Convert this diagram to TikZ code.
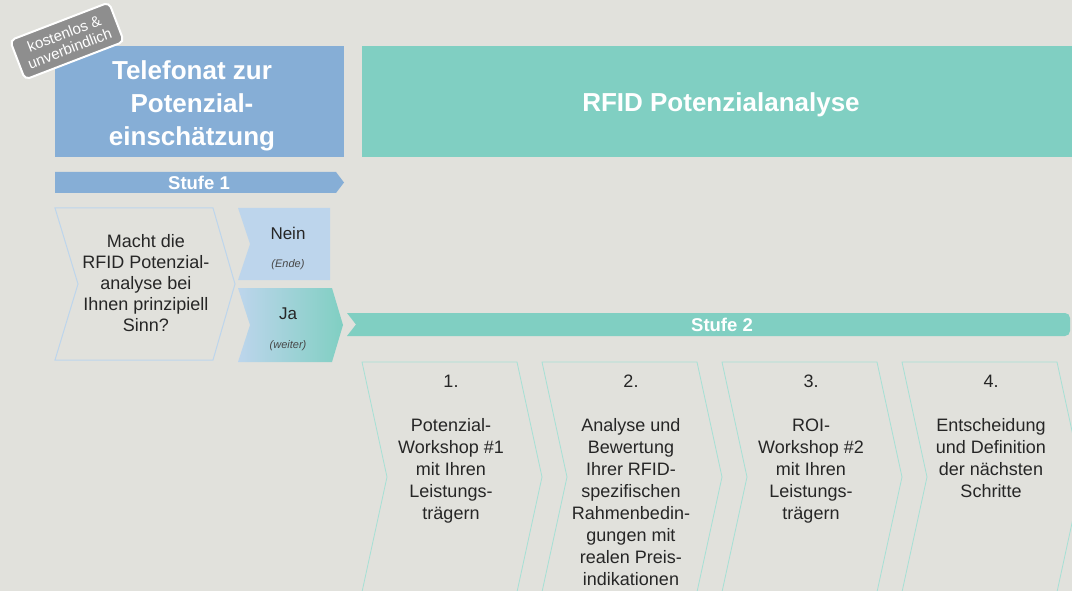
\documentclass[tikz,border=0pt]{standalone}
\usepackage{fontspec}
\setmainfont{Liberation Sans}
\usetikzlibrary{positioning}
\definecolor{hg}{HTML}{E1E1DC}
\definecolor{blau}{HTML}{86AED6}
\definecolor{hellblau}{HTML}{BDD5EC}
\definecolor{gruen}{HTML}{80CFC2}
\definecolor{hellgruen}{HTML}{A6E0D5}
\definecolor{grau}{HTML}{8E8E8E}
\definecolor{schrift}{HTML}{262626}
\tikzset{
    title/.style =  {text=white,
                    font=\bfseries\fontsize{26}{33}\selectfont,
                    align=center,
                    inner sep=0pt},
    bartext/.style = {text=white,
                    font=\bfseries\fontsize{18.5}{20}\selectfont,
                    inner sep=0pt},
    body/.style =   {text=schrift,
                    font=\fontsize{18}{22}\selectfont,
                    align=center,
                    inner sep=0pt},
    answer/.style = {text=schrift,
                    font=\fontsize{17}{20}\selectfont,
                    inner sep=0pt},
    remark/.style = {text=schrift!85,
                    font=\itshape\fontsize{11}{12}\selectfont,
                    inner sep=0pt},
    badge/.style =  {rectangle,
                    rounded corners=5pt,
                    fill=grau,
                    draw=white,
                    line width=2pt,
                    text=white,
                    font=\fontsize{15}{15.5}\selectfont,
                    align=center,
                    rotate=21,
                    minimum width=106pt,
                    minimum height=42pt,
                    inner sep=1pt},
    stepline/.style = {draw=hellgruen,
                    line width=0.8pt},
    askline/.style = {draw=hellblau,
                    line width=1pt}
}

\begin{document}
\begin{tikzpicture}[x=1pt,y=-1pt]
    \useasboundingbox (0,0) rectangle (1072,591);
    \fill[hg] (0,0) rectangle (1072,591);
    % Kopf
    \fill[blau]  (55,46) rectangle (344,157);
    \fill[gruen] (362,46) rectangle (1072,157);
    \node[title] (tel)  at (192,106) {Telefonat zur\\Potenzial-\\einschätzung};
    \node[title] (rfid) at (721,105) {RFID Potenzialanalyse};
    \node[badge] (frei) at (67,41)   {kostenlos \&\\unverbindlich};
    % Stufe 1
    \fill[blau] (55,172) -- (336,172) -- (344,182.5) -- (336,193) -- (55,193) -- cycle;
    \node[bartext] (s1) at (199,182.5) {Stufe 1};
    \draw[askline] (55,208) -- (213,208) -- (235,284) -- (213,360) -- (55,360) -- (78,284) -- cycle;
    \node[body, font=\fontsize{18}{21}\selectfont] (frage) at (146,283)
        {Macht die\\RFID Potenzial-\\analyse bei\\Ihnen prinzipiell\\Sinn?};
    \fill[hellblau] (238,208) -- (330,208) -- (330,280) -- (238,280) -- (250,244) -- cycle;
    \shade[left color=hellblau, right color=gruen]
        (238,288) -- (332,288) -- (343,325) -- (332,362) -- (238,362) -- (250,325) -- cycle;
    \node[answer] (nein) at (288,233) {Nein};
    \node[remark, below=20pt of nein] (ende) {(Ende)};
    \node[answer] (ja) at (288,314) {Ja};
    \node[remark, below=20pt of ja] (weiter) {(weiter)};
    % Stufe 2
    \fill[gruen] (347,313) [rounded corners=5pt] -- (1070,313) -- (1070,336) [sharp corners] -- (347,336) -- (356,324.5) -- cycle;
    \node[bartext] (s2) at (722,324.5) {Stufe 2};
    \draw[stepline] (362,362) -- (517,362) -- (542,477) -- (517,592) -- (362,592) -- (387,477) -- cycle;
    \draw[stepline] (542,362) -- (697,362) -- (722,477) -- (697,592) -- (542,592) -- (567,477) -- cycle;
    \draw[stepline] (722,362) -- (877,362) -- (902,477) -- (877,592) -- (722,592) -- (747,477) -- cycle;
    \draw[stepline] (902,362) -- (1057,362) -- (1082,477) -- (1057,592) -- (902,592) -- (927,477) -- cycle;
    \node[body] (nr1) at (451,381) {1.};
    \node[body] (nr2) at (631,381) {2.};
    \node[body] (nr3) at (811,381) {3.};
    \node[body] (nr4) at (991,381) {4.};
    \node[body, below=31pt of nr1] (txt1) {Potenzial-\\Workshop \#1\\mit Ihren\\Leistungs-\\trägern};
    \node[body, below=31pt of nr2] (txt2) {Analyse und\\Bewertung\\Ihrer RFID-\\spezifischen\\Rahmenbedin-\\gungen mit\\realen Preis-\\indikationen};
    \node[body, below=31pt of nr3] (txt3) {ROI-\\Workshop \#2\\mit Ihren\\Leistungs-\\trägern};
    \node[body, below=31pt of nr4] (txt4) {Entscheidung\\und Definition\\der nächsten\\Schritte};
\end{tikzpicture}
\end{document}
